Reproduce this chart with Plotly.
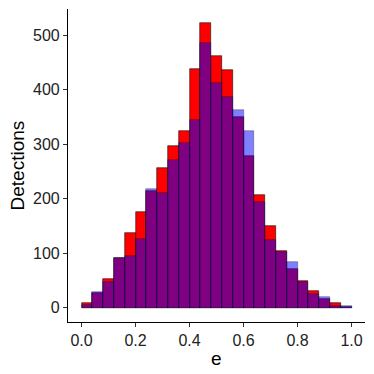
import plotly.graph_objects as go

# histogram bins of e (width 0.04, from 0 to 1)
bin_width = 0.04
bin_centers = [round(0.02 + bin_width * i, 2) for i in range(25)]

# counts per bin
red_counts = [9, 28, 52, 91, 137, 176, 215, 257, 296, 324, 438, 522, 461,
              436, 350, 279, 207, 150, 105, 72, 50, 30, 17, 9, 2]
blue_counts = [6, 29, 47, 92, 95, 127, 217, 211, 271, 302, 344, 485, 412,
               386, 363, 324, 194, 124, 103, 84, 48, 26, 20, 4, 3]

fig = go.Figure()

fig.add_trace(go.Bar(
    x=bin_centers, y=red_counts, width=bin_width,
    marker=dict(color="#ff0000", line=dict(color="rgba(0,0,0,0.9)", width=0.6)),
    showlegend=False,
))
fig.add_trace(go.Bar(
    x=bin_centers, y=blue_counts, width=bin_width,
    marker=dict(color="rgba(0,0,255,0.5)", line=dict(color="rgba(0,0,0,0.5)", width=0.6)),
    showlegend=False,
))

axis_style = dict(
    showline=True, linecolor="black", linewidth=1.2,
    ticks="outside", ticklen=4, tickwidth=1.1, tickcolor="#333333",
    showgrid=False, zeroline=False, automargin=False,
    tickfont=dict(size=16, color="#222222"),
)

fig.update_layout(
    barmode="overlay",
    bargap=0,
    width=374, height=374,
    margin=dict(l=68, r=9, t=9, b=52, autoexpand=False),
    plot_bgcolor="white", paper_bgcolor="white",
    font=dict(family="Liberation Sans, Arial, sans-serif", color="black"),
    xaxis=dict(range=[-0.05, 1.05], tickvals=[0, 0.2, 0.4, 0.6, 0.8, 1.0],
               ticktext=["0.0", "0.2", "0.4", "0.6", "0.8", "1.0"], **axis_style),
    yaxis=dict(range=[-26.1, 548.1], tickvals=[0, 100, 200, 300, 400, 500], **axis_style),
    annotations=[
        dict(text="e", xref="paper", yref="paper", x=0.5, y=(322 - 358) / 313,
             showarrow=False, font=dict(size=19), xanchor="center", yanchor="middle"),
        dict(text="Detections", xref="paper", yref="paper", x=(17 - 68) / 297, y=0.5,
             showarrow=False, textangle=-90, font=dict(size=19),
             xanchor="center", yanchor="middle"),
    ],
)

# the page body has a default 8px margin; drop it so the figure sits at the corner
fig.write_html("out.html", config={"displayModeBar": False},
               post_script="document.body.style.margin='0';")
